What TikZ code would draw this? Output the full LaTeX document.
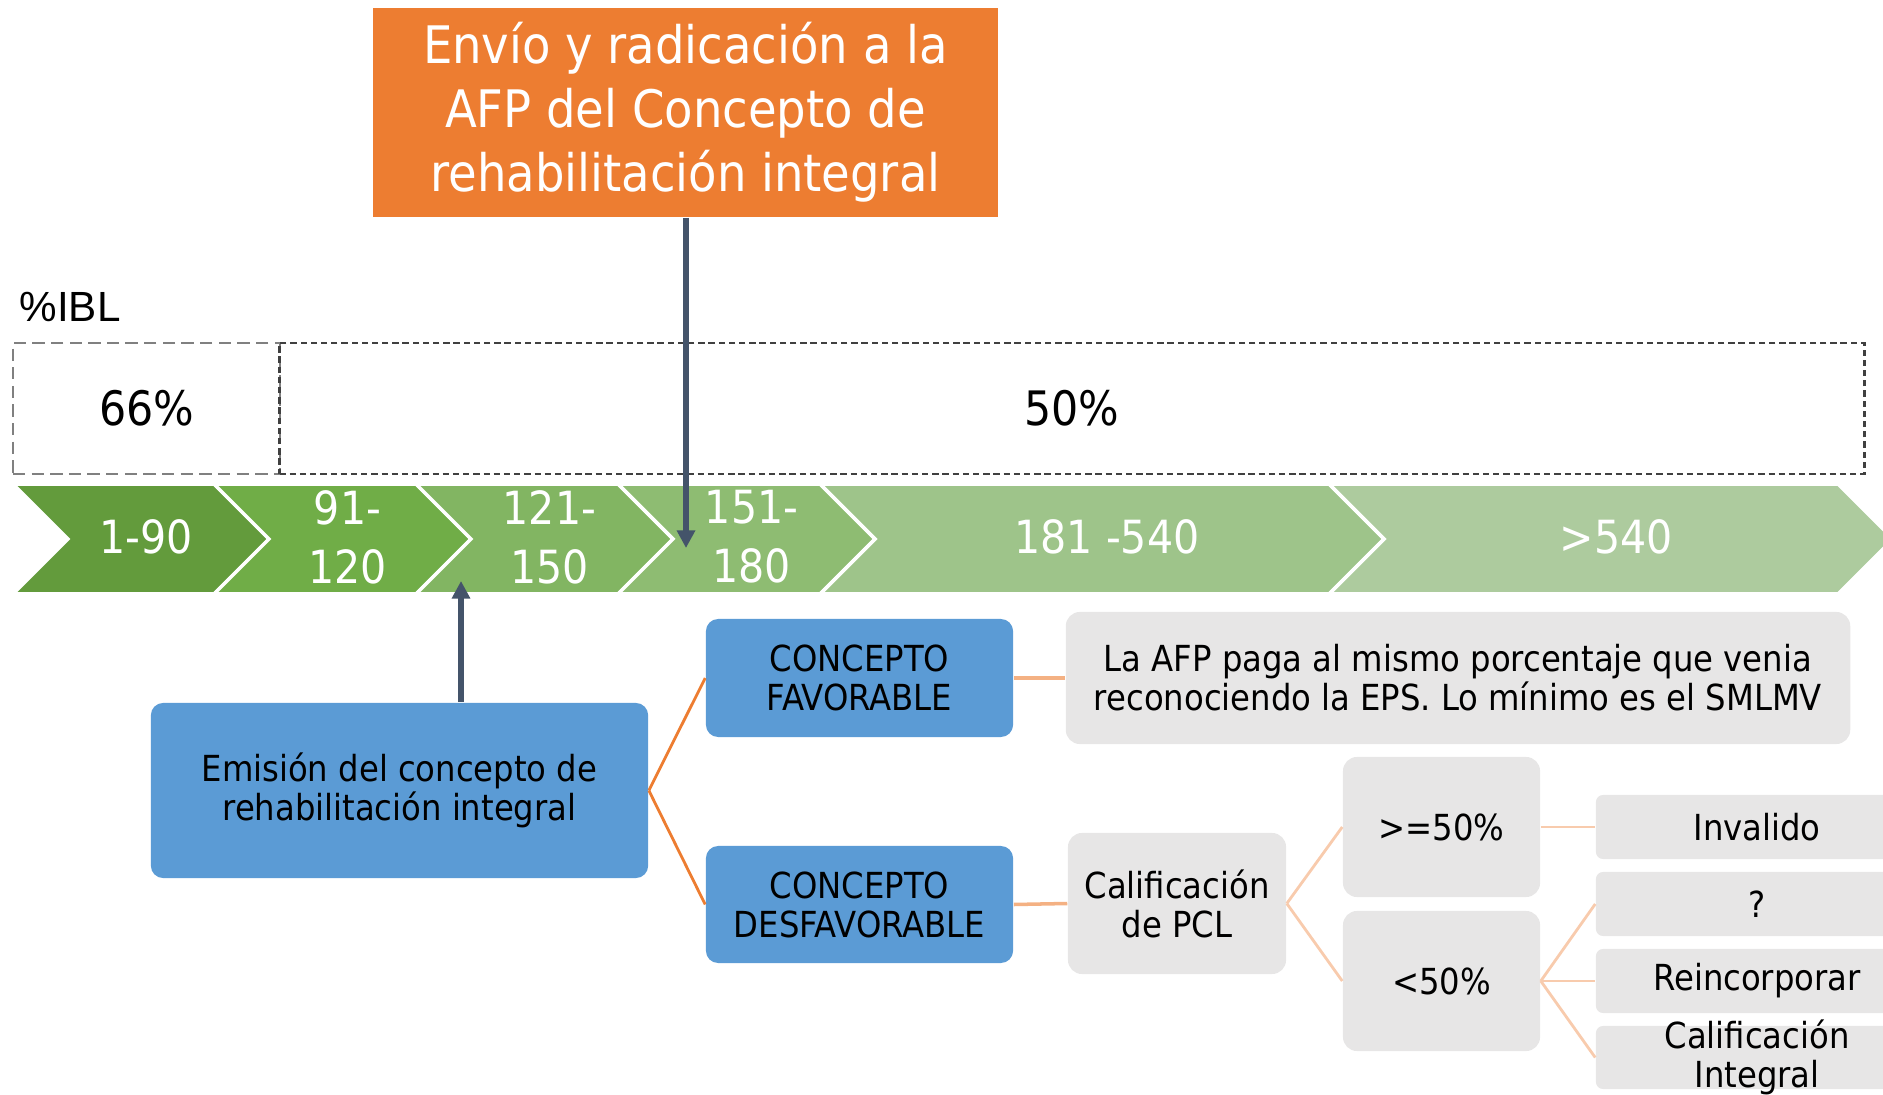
\documentclass[tikz,border=0pt]{standalone}
\usepackage{fontspec}
\setmainfont{DejaVu Sans Condensed}
\newfontfamily\ariafont{Liberation Sans}
\usetikzlibrary{arrows.meta}

\definecolor{naranja}{HTML}{ED7D31}
\definecolor{azul}{HTML}{5B9BD5}
\definecolor{gris}{HTML}{E7E6E6}
\definecolor{pizarra}{HTML}{44546A}
\definecolor{salmon}{HTML}{F4B183}
\definecolor{salmonclaro}{HTML}{F8CBAD}
\definecolor{verdeA}{HTML}{639B3C}
\definecolor{verdeB}{HTML}{70AD47}
\definecolor{verdeC}{HTML}{82B562}
\definecolor{verdeD}{HTML}{8EBC72}
\definecolor{verdeE}{HTML}{9EC48A}
\definecolor{verdeF}{HTML}{ADCB9E}

\begin{document}
\begin{tikzpicture}[x=0.01cm,y=-0.01cm,
	caja/.style={align=center, inner sep=0pt, font=\fontsize{10.2}{11.1}\selectfont},
	azulcaja/.style={caja, fill=azul, rounded corners=3.5pt},
	griscaja/.style={caja, fill=gris, rounded corners=4pt},
	fincaja/.style={caja, fill=gris, rounded corners=2pt, minimum width=32.2mm, minimum height=6.4mm},
	dias/.style={text=white, align=center, font=\fontsize{13}{16.8}\selectfont},
	rango/.style={minimum height=13.1mm, inner sep=0pt, font=\fontsize{13.5}{16}\selectfont},
	flecha/.style={pizarra, line width=1.5pt, -{Triangle[length=5pt,width=5pt]}},
	rama/.style={naranja, line width=0.8pt},
	lazo/.style={salmon, line width=1pt},
	sublazo/.style={salmonclaro, line width=0.8pt}]
	\useasboundingbox (0,0) rectangle (1883,1095);

	% envio a la AFP
	\node[fill=naranja, text=white, align=center, inner sep=0pt, minimum width=62.5mm, minimum height=20.9mm,
		font=\fontsize{14.7}{18.2}\selectfont] (envio) at (685.5,112.5)
		{Envío y radicación a la\\AFP del Concepto de\\rehabilitación integral};

	\node[anchor=base west, inner sep=0pt, font=\ariafont\fontsize{12}{14}\selectfont] (ibl) at (19,322) {\%IBL};

	% porcentajes
	\node[rango, draw=gray, line width=0.6pt, dash pattern=on 3.5pt off 1.8pt, minimum width=26.7mm] (p66) at (146.5,408.5) {66\%};
	\node[rango, draw=black!75, line width=0.6pt, dash pattern=on 1.8pt off 1.1pt, minimum width=158.4mm] (p50) at (1072,408.5) {50\%};

	% flechas de dias
	\fill[verdeA, draw=white, line width=1pt] (13,484) -- (214,484) -- (269,539) -- (214,594) -- (13,594) -- (68,539) -- cycle;
	\fill[verdeB, draw=white, line width=1pt] (214,484) -- (416,484) -- (471,539) -- (416,594) -- (214,594) -- (269,539) -- cycle;
	\fill[verdeC, draw=white, line width=1pt] (416,484) -- (618,484) -- (673,539) -- (618,594) -- (416,594) -- (471,539) -- cycle;
	\fill[verdeD, draw=white, line width=1pt] (618,484) -- (820,484) -- (875,539) -- (820,594) -- (618,594) -- (673,539) -- cycle;
	\fill[verdeE, draw=white, line width=1pt] (820,484) -- (1329,484) -- (1384,539) -- (1329,594) -- (820,594) -- (875,539) -- cycle;
	\fill[verdeF, draw=white, line width=1pt] (1329,484) -- (1838,484) -- (1893,539) -- (1838,594) -- (1329,594) -- (1384,539) -- cycle;

	\node[dias] (d1) at (146,537) {1-90};
	\node[dias] (d2) at (347.5,537) {91-\\120};
	\node[dias] (d3) at (549.5,537) {121-\\150};
	\node[dias] (d4) at (751.5,537) {151-\\180};
	\node[dias] (d5) at (1107,537) {181 -540};
	\node[dias] (d6) at (1616,537) {>540};

	% conceptos
	\node[azulcaja, minimum width=49.7mm, minimum height=17.5mm] (emision) at (399.5,790.5)
		{Emisión del concepto de\\rehabilitación integral};
	\node[azulcaja, minimum width=30.7mm, minimum height=11.8mm] (fav) at (859.5,678) {CONCEPTO\\FAVORABLE};
	\node[azulcaja, minimum width=30.7mm, minimum height=11.7mm] (des) at (859.5,904.5) {CONCEPTO\\DESFAVORABLE};

	\node[griscaja, minimum width=78.4mm, minimum height=13.2mm] (afp) at (1458,678)
		{La AFP paga al mismo porcentaje que venia\\reconociendo la EPS. Lo mínimo es el SMLMV};
	\node[griscaja, minimum width=21.8mm, minimum height=14.1mm] (pcl) at (1177,903.5) {Calificación\\de PCL};
	\node[griscaja, minimum width=19.7mm, minimum height=14mm] (may) at (1441.5,827) {>=50\%};
	\node[griscaja, minimum width=19.7mm, minimum height=14mm] (men) at (1441.5,981) {<50\%};

	\node[fincaja] (inv) at (1757,827) {Invalido};
	\node[fincaja] (preg) at (1757,904) {?};
	\node[fincaja] (rein) at (1757,981) {Reincorporar};
	\node[fincaja, minimum height=6.3mm, label={[caja]center:Calificación\\Integral}] (calint) at (1757,1057.5) {};

	% flechas
	\coordinate (radica) at (686,548);
	\coordinate (emite) at (461,581);
	\draw[flecha] (radica |- envio.south) -- (radica);
	\draw[flecha] (emite |- emision.north) -- (emite);

	% ramas
	\draw[rama] (emision.east) -- (fav.west);
	\draw[rama] (emision.east) -- (des.west);
	\draw[lazo] (fav.east) -- (afp.west);
	\draw[lazo] (des.east) -- (pcl.west);
	\draw[sublazo] (pcl.east) -- (may.west);
	\draw[sublazo] (pcl.east) -- (men.west);
	\draw[sublazo] (may.east) -- (inv.west);
	\draw[sublazo] (men.east) -- (preg.west);
	\draw[sublazo] (men.east) -- (rein.west);
	\draw[sublazo] (men.east) -- (calint.west);
\end{tikzpicture}
\end{document}
